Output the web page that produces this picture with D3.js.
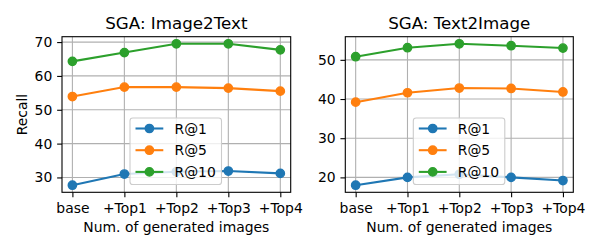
<!DOCTYPE html>
<html>
<head>
<meta charset="utf-8">
<script src="https://cdn.jsdelivr.net/npm/d3@7"></script>
<style>
  body { margin: 0; background: #fff; }
  svg { display: block; font-family: "DejaVu Sans", sans-serif; }
</style>
</head>
<body>
<svg id="chart" width="600" height="250"></svg>
<script>
const categories = ["base", "+Top1", "+Top2", "+Top3", "+Top4"];
const seriesNames = ["R@1", "R@5", "R@10"];
const colors = ["#1f77b4", "#ff7f0e", "#2ca02c"];

const titles = ["SGA: Image2Text", "SGA: Text2Image"];

const i2t_r1 = [27.7, 31.0, 31.7, 31.9, 31.2];
const i2t_r5 = [53.9, 56.7, 56.7, 56.4, 55.5];
const i2t_r10 = [64.3, 66.9, 69.5, 69.5, 67.7];

const t2i_r1 = [18.0, 20.0, 20.8, 20.0, 19.2];
const t2i_r5 = [39.2, 41.6, 42.8, 42.7, 41.8];
const t2i_r10 = [50.8, 53.1, 54.1, 53.6, 53.0];

const i2tTicks = [30, 40, 50, 60, 70];
const t2iTicks = [20, 30, 40, 50];

(function () {
const panels = [
  { title: titles[0], series: [i2t_r1, i2t_r5, i2t_r10], ticks: i2tTicks, left: 62, right: 290.7, ylabel: "Recall" },
  { title: titles[1], series: [t2i_r1, t2i_r5, t2i_r10], ticks: t2iTicks, left: 345.3, right: 573.3, ylabel: null }
];

const plotTop = 36.7, plotBottom = 192.3;
const svg = d3.select("#chart");
const fs = 13.9;
const mr = 4.17, mew = 1.39;

panels.forEach(p => {
  const g = svg.append("g");
  const x = d3.scaleLinear().domain([-0.2, 4.2]).range([p.left, p.right]);
  const all = p.series.flat();
  const mn = d3.min(all), mx = d3.max(all), m = (mx - mn) * 0.05;
  const y = d3.scaleLinear().domain([mn - m, mx + m]).range([plotBottom, plotTop]);

  // grid
  g.append("g").selectAll("line").data(categories).join("line")
    .attr("x1", (d, i) => x(i)).attr("x2", (d, i) => x(i))
    .attr("y1", plotTop).attr("y2", plotBottom)
    .attr("stroke", "#b0b0b0").attr("stroke-width", 1.1);
  g.append("g").selectAll("line").data(p.ticks).join("line")
    .attr("x1", p.left).attr("x2", p.right)
    .attr("y1", d => y(d)).attr("y2", d => y(d))
    .attr("stroke", "#b0b0b0").attr("stroke-width", 1.1);

  // lines
  const line = d3.line().x((d, i) => x(i)).y(d => y(d));
  p.series.forEach((s, si) => {
    g.append("path").datum(s).attr("d", line)
      .attr("fill", "none").attr("stroke", colors[si]).attr("stroke-width", 2.08);
    g.append("g").selectAll("circle").data(s).join("circle")
      .attr("cx", (d, i) => x(i)).attr("cy", d => y(d)).attr("r", mr)
      .attr("fill", colors[si]).attr("stroke", colors[si]).attr("stroke-width", mew);
  });

  // axes
  const xAxis = d3.axisBottom(x).tickValues([0, 1, 2, 3, 4])
    .tickFormat(i => categories[i]).tickSize(4.86).tickPadding(4.86);
  const yAxis = d3.axisLeft(y).tickValues(p.ticks).tickSize(4.86).tickPadding(4.86);
  const gx = g.append("g").attr("transform", `translate(0,${plotBottom})`).call(xAxis);
  const gy = g.append("g").attr("transform", `translate(${p.left},0)`).call(yAxis);
  [gx, gy].forEach(a => {
    a.select(".domain").remove();
    a.selectAll(".tick line").attr("stroke", "#000").attr("stroke-width", 1.1);
    a.selectAll(".tick text").attr("font-size", fs).attr("font-family", "DejaVu Sans").attr("fill", "#000");
  });
  gx.selectAll(".tick text").attr("dy", "0.76em");

  // spines
  g.append("rect").attr("x", p.left).attr("y", plotTop)
    .attr("width", p.right - p.left).attr("height", plotBottom - plotTop)
    .attr("fill", "none").attr("stroke", "#000").attr("stroke-width", 1.1);

  // title
  g.append("text").attr("x", (p.left + p.right) / 2).attr("y", 28.5)
    .attr("text-anchor", "middle").attr("font-size", 16.7).text(p.title);

  // xlabel
  g.append("text").attr("x", (p.left + p.right) / 2).attr("y", 231.5)
    .attr("text-anchor", "middle").attr("font-size", fs).text("Num. of generated images");

  if (p.ylabel) {
    g.append("text").attr("transform", `translate(26.5,${(plotTop + plotBottom) / 2}) rotate(-90)`)
      .attr("text-anchor", "middle").attr("font-size", fs).text(p.ylabel);
  }

  // legend
  const lx = p.left + 68, ly = 118, lw = 91.5, lh = 66.5;
  const lg = g.append("g");
  lg.append("rect").attr("x", lx).attr("y", ly).attr("width", lw).attr("height", lh)
    .attr("rx", 2.8).attr("fill", "#fff").attr("fill-opacity", 0.8)
    .attr("stroke", "#cccccc").attr("stroke-width", 1.1);
  seriesNames.forEach((name, si) => {
    const ry = ly + 10.5 + si * 21.7;
    lg.append("line").attr("x1", lx + 5.5).attr("x2", lx + 33.3)
      .attr("y1", ry).attr("y2", ry).attr("stroke", colors[si]).attr("stroke-width", 2.08);
    lg.append("circle").attr("cx", lx + 19.4).attr("cy", ry).attr("r", mr)
      .attr("fill", colors[si]).attr("stroke", colors[si]).attr("stroke-width", mew);
    lg.append("text").attr("x", lx + 44.5).attr("y", ry).attr("dy", "0.36em")
      .attr("font-size", fs).text(name);
  });
});
})();
</script>
</body>
</html>
